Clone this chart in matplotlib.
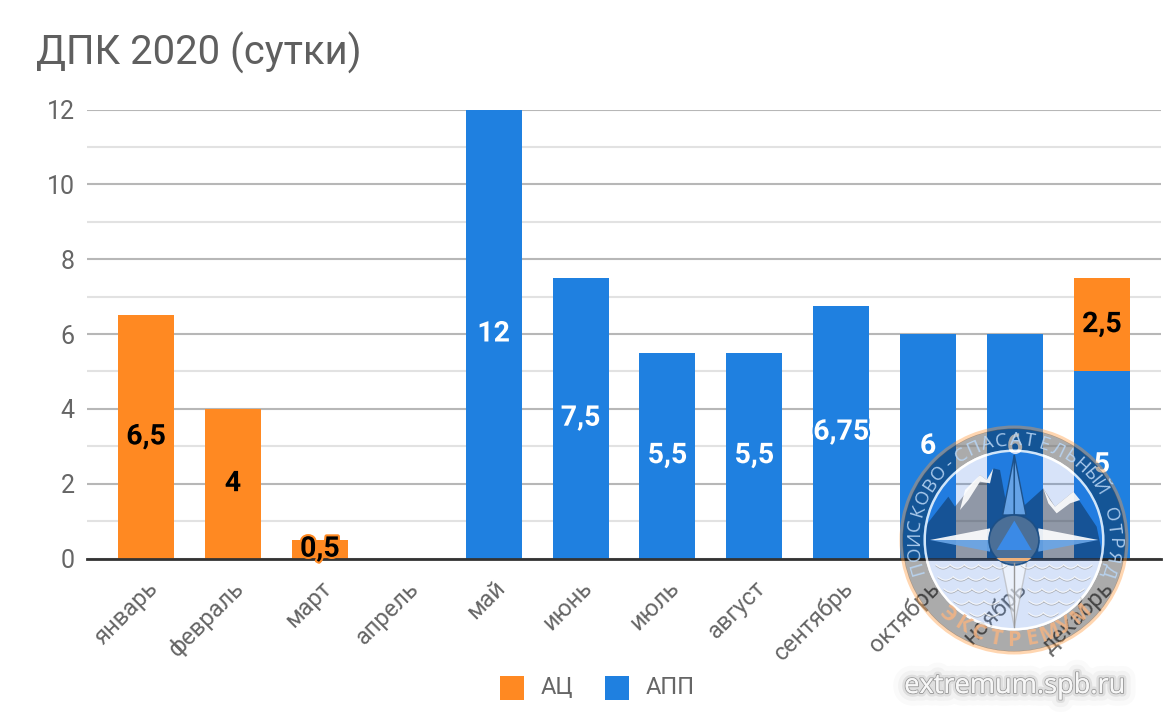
import numpy as np
import matplotlib
matplotlib.use("Agg")
import matplotlib.pyplot as plt
import matplotlib.patheffects as pe
from matplotlib.patches import Circle, Polygon, Rectangle, Wedge
from matplotlib.ticker import MultipleLocator

plt.rcParams['font.family'] = ['Roboto', 'DejaVu Sans']

months = ['январь', 'февраль', 'март', 'апрель', 'май', 'июнь', 'июль', 'август',
          'сентябрь', 'октябрь', 'ноябрь', 'декабрь']
app = [0, 0, 0, 0, 12, 7.5, 5.5, 5.5, 6.75, 6, 6, 5]
ac = [6.5, 4, 0.5, 0, 0, 0, 0, 0, 0, 0, 0, 2.5]
series_names = ['АЦ', 'АПП']
title = 'ДПК 2020 (сутки)'
watermark = 'extremum.spb.ru'
ring_top = 'ПОИСКОВО-СПАСАТЕЛЬНЫЙ ОТРЯД'
ring_bottom = 'ЭКСТРЕМУМ'

ORANGE = '#ff8922'
BLUE = '#1f80e0'
GREY = '#666666'
W, H = 1170, 728

fig = plt.figure(figsize=(W / 100, H / 100), dpi=100, facecolor='white')
L, R, T, B = 87, 1161, 109.5, 558.5
ax = fig.add_axes([L / W, 1 - B / H, (R - L) / W, (B - T) / H])
x = np.arange(len(months))
bw = 0.644
ax.bar(x, app, bw, color=BLUE, zorder=3)
ax.bar(x, ac, bw, bottom=app, color=ORANGE, zorder=3)
ax.set_xlim(-0.68, 11.68)
ax.set_ylim(0, 12)
ax.yaxis.set_major_locator(MultipleLocator(2))
ax.yaxis.set_minor_locator(MultipleLocator(1))
ax.grid(which='major', axis='y', color='#b7b7b7', lw=1.5, zorder=1)
ax.grid(which='minor', axis='y', color='#e2e2e2', lw=1.5, zorder=1)
for s in ['top', 'left', 'right']:
    ax.spines[s].set_visible(False)
ax.spines['bottom'].set_color('#333333')
ax.spines['bottom'].set_linewidth(2)
ax.spines['bottom'].set_zorder(4)
ax.tick_params(which='both', length=0)
ax.tick_params(axis='y', labelsize=18, labelcolor=GREY, pad=9)
ax.set_xticks(x)
ax.set_xticklabels(months, rotation=45, ha='right', rotation_mode='anchor',
                   fontsize=17, color=GREY)
ax.tick_params(axis='x', pad=13)

def fmt(v):
    return f'{v:g}'.replace('.', ',')

for i, (a, c) in enumerate(zip(app, ac)):
    if a:
        ax.text(i, a / 2, fmt(a), ha='center', va='center', color='white', fontsize=20.5,
                fontweight='bold', zorder=5,
                path_effects=[pe.withStroke(linewidth=3, foreground=BLUE)])
    if c:
        ax.text(i, a + c / 2, fmt(c), ha='center', va='center', color='black', fontsize=20.5,
                fontweight='bold', zorder=5,
                path_effects=[pe.withStroke(linewidth=3, foreground=ORANGE)])

fig.text(36 / W, 1 - 53 / H, title, fontsize=28.8, color='#5f5f5f', va='center', ha='left')

# legend
for px, col, name in zip([512, 617], [ORANGE, BLUE], series_names):
    fig.patches.append(Rectangle(((px - 12) / W, 1 - 700 / H), 24 / W, 24 / H,
                                 transform=fig.transFigure, facecolor=col, edgecolor='none'))
    fig.text((px + 29) / W, 1 - 688 / H, name, fontsize=17, color=GREY, va='center', ha='left')

# watermark overlay, in pixel coordinates of the image
ov = fig.add_axes([0, 0, 1, 1], facecolor='none')
ov.set_xlim(0, W)
ov.set_ylim(H, 0)
ov.axis('off')
ov.set_zorder(10)
cx, cy = 1014, 540

def z(pts):
    return [(880 + a / 3, 400 + b / 3) for a, b in pts]

# rings and the tinted inner disc
ov.add_patch(Wedge((cx, cy), 114.5, 0, 360, width=3.5, facecolor='#ff9a3c', alpha=0.4, lw=0))
ov.add_patch(Wedge((cx, cy), 111.5, 0, 360, width=21, facecolor='black', alpha=0.33, lw=0))
ov.add_patch(Wedge((cx, cy), 90.5, 0, 360, width=2.5, facecolor='white', alpha=0.8, lw=0))
ov.add_patch(Circle((cx, cy), 88, facecolor='#2b6fe0', alpha=0.19, lw=0))
disc = Circle((cx, cy), 88, transform=ov.transData)

# mountains
m_left = [(135, 476), (135, 380), (205, 290), (225, 320), (300, 225), (320, 240), (340, 205),
          (360, 210), (375, 290), (400, 345), (400, 476)]
m_right = [(400, 476), (400, 345), (440, 310), (490, 265), (525, 320), (580, 275), (650, 380),
           (670, 476)]
for m in (m_left, m_right):
    p = Polygon(z(m), closed=True, facecolor='black', alpha=0.33, lw=0)
    ov.add_patch(p)
    p.set_clip_path(disc)
for snow in ([(300, 225), (320, 240), (340, 205), (330, 250), (300, 245), (265, 300),
              (240, 330), (255, 270)],
             [(490, 265), (510, 300), (525, 320), (580, 275), (600, 300), (570, 310),
              (530, 340), (505, 310)]):
    ov.add_patch(Polygon(z(snow), closed=True, facecolor='white', alpha=0.9, lw=0))

# compass star
for pts in ([(403, 165), (368, 345), (403, 345)], [(403, 165), (438, 345), (403, 345)]):
    ov.add_patch(Polygon(z(pts), facecolor='#6aa6e8', edgecolor='#1c4f86', lw=1, alpha=0.95))
ov.add_patch(Polygon(z([(150, 420), (330, 385), (330, 420)]), facecolor='white', alpha=0.9, lw=0))
ov.add_patch(Polygon(z([(150, 420), (330, 455), (330, 420)]), facecolor='#6aa6e8', alpha=0.9, lw=0))
ov.add_patch(Polygon(z([(655, 420), (475, 385), (475, 420)]), facecolor='white', alpha=0.9, lw=0))
ov.add_patch(Polygon(z([(655, 420), (475, 455), (475, 420)]), facecolor='#6aa6e8', alpha=0.9, lw=0))
ov.add_patch(Polygon(z([(403, 680), (365, 490), (440, 490)]), facecolor='white', edgecolor='#aaaaaa',
                     lw=1, alpha=0.55))
ov.plot(*zip(*z([(403, 490), (403, 680)])), color='#999999', lw=1)

# waves
for half, yy in zip([78, 76, 70, 60, 44], [565, 577, 589, 601, 613]):
    n = int(2 * half / 14)
    t = np.linspace(0, 1, 24)
    for k in range(n):
        x0 = cx - half + k * 2 * half / n
        if abs(x0 + half / n - cx) < 9:
            continue
        xs = x0 + t * 2 * half / n
        ys = yy + 3.2 * np.sin(np.pi * t)
        ov.plot(xs, ys + 0.8, color='#888888', lw=0.8, alpha=0.6)
        ov.plot(xs, ys, color='white', lw=0.8, alpha=0.8)

# centre emblem
ov.add_patch(Circle((cx, cy), 25, facecolor='#4f7198', edgecolor='#1c4f86', lw=1.2, alpha=0.95))
ov.add_patch(Polygon(z([(403, 362), (350, 450), (455, 450)]), facecolor='#3b8ae6', lw=0))
ov.add_patch(Rectangle((cx - 20, cy + 17.5), 40, 3.5, facecolor='#f0b27a', lw=0,
                       clip_path=Circle((cx, cy), 25, transform=ov.transData)))

# ring lettering
r_t = 100
for ch, ang in zip(ring_top, np.linspace(196, -18, len(ring_top))):
    a = np.radians(ang)
    ov.text(cx + r_t * np.cos(a), cy - r_t * np.sin(a), ch, fontsize=13.5, color='#b9d6f5',
            alpha=0.9, rotation=ang - 90, ha='center', va='center',
            rotation_mode='anchor', family=['Open Sans', 'DejaVu Sans'])
for ch, ang in zip(ring_bottom, np.linspace(228, 312, len(ring_bottom))):
    a = np.radians(ang)
    ov.text(cx + r_t * np.cos(a), cy - r_t * np.sin(a), ch, fontsize=15.5, color='#f4b483',
            alpha=0.85, fontweight='bold', rotation=ang + 90, ha='center', va='center',
            rotation_mode='anchor', family=['Open Sans', 'DejaVu Sans'])

# site address, with a soft shadow
ov.text(1015, 686, watermark, fontsize=19.6, color='#f7f7f7', ha='center', va='center',
        family=['Open Sans', 'DejaVu Sans'],
        path_effects=[pe.withStroke(linewidth=18, foreground='#000000', alpha=0.02),
                      pe.withStroke(linewidth=11, foreground='#000000', alpha=0.03),
                      pe.withStroke(linewidth=5, foreground='#000000', alpha=0.08),
                      pe.withStroke(linewidth=1.5, foreground='#444444', alpha=0.4),
                      pe.Normal()])

fig.savefig('out.png', dpi=100)
